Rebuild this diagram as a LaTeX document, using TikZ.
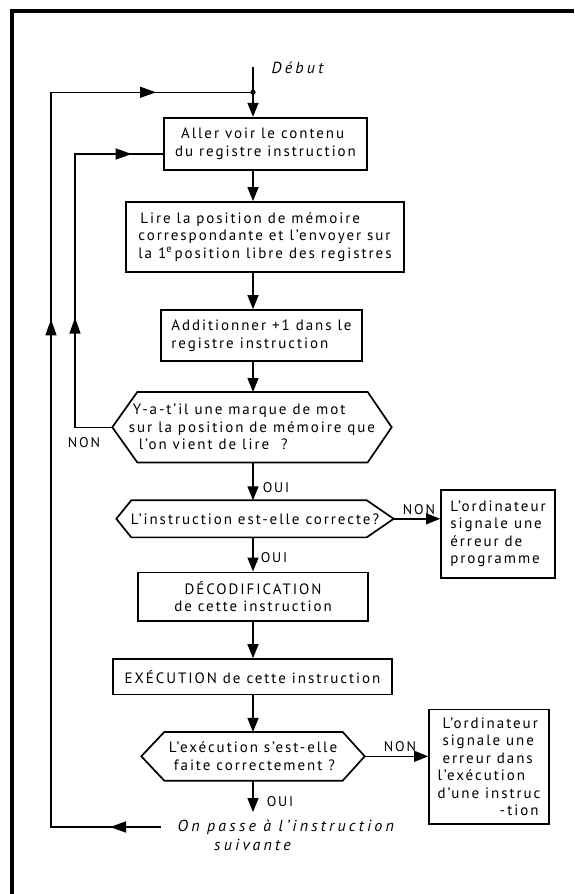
\documentclass[tikz,border=0pt]{standalone}
\usepackage{fontspec}
\setmainfont{PT Sans}[LetterSpace=13, ItalicFeatures={LetterSpace=20}]
\usetikzlibrary{arrows.meta,decorations.markings,calc}

% hexagonal decision outline drawn around a (borderless) node
% #1 node name, #2 left inset, #3 right inset
\newcommand\drawhex[3]{%
  \draw[line width=1.7pt, line join=miter]
    (#1.west) -- ([xshift=#2]#1.north west) -- ([xshift=-#3]#1.north east)
    -- (#1.east) -- ([xshift=-#3]#1.south east) -- ([xshift=#2]#1.south west)
    -- cycle;}

\begin{document}
\begin{tikzpicture}[x=1pt, y=-1pt, line width=1.4pt,
  tip/.style={-{Triangle[length=14pt,width=11pt]}},
  txt/.style={font=\fontsize{15}{17.5}\selectfont},
  box/.style={txt, draw, line width=1.7pt, inner sep=0pt, align=left},
  hexa/.style={txt, inner sep=0pt, align=left},
  lbl/.style={font=\fontsize{14}{16}\selectfont, inner sep=0pt},
  ital/.style={font=\fontsize{16}{18}\selectfont\itshape, inner sep=0pt},
  loopmarks/.style n args={3}{postaction={decorate}, decoration={markings,
    mark=at position #1 with {\arrow{Triangle[length=16pt,width=11pt]}},
    mark=at position #2 with {\arrow{Triangle[length=16pt,width=11pt]}},
    mark=at position #3 with {\arrow{Triangle[length=16pt,width=11pt]}}}},
  loopmarkstwo/.style 2 args={postaction={decorate}, decoration={markings,
    mark=at position #1 with {\arrow{Triangle[length=16pt,width=11pt]}},
    mark=at position #2 with {\arrow{Triangle[length=16pt,width=11pt]}}}}]

\useasboundingbox (0,0) rectangle (574,894);

% frame (top and left edges)
\draw[line width=3.5pt] (574,11) -- (12,11) -- (12,894);

% main column
\coordinate (spine) at (253,0);
\coordinate (top) at (253,67);
\coordinate (join) at (253,92.3);
\node[ital, anchor=west] (debut) at (271,68) {Début};

\node[box, minimum width=203pt, minimum height=52.3pt] (b1) at (265.5,143.8)
  {\hspace*{6pt}Aller voir le contenu\\du registre instruction};
\node[box, minimum width=278pt, minimum height=69.7pt] (b2) at (265,236.8)
  {\hspace*{2pt}Lire la position de mémoire\\correspondante et l’envoyer sur\\la 1\textsuperscript{e}\,position libre des registres};
\node[box, minimum width=201pt, minimum height=51pt] (b3) at (261.5,335.5)
  {Additionner +1 dans le\\registre instruction};
\node[hexa, minimum width=278pt, minimum height=69pt] (h1) at (252,427.2)
  {\hspace*{4pt}Y-a-t’il une marque de mot\\sur la position de mémoire que\\\hspace*{10pt}l’on vient de lire \ ?};
\drawhex{h1}{25pt}{24pt}
\node[hexa, minimum width=276pt, minimum height=35.7pt] (h2) at (255,518.8)
  {L’instruction est-elle correcte?};
\drawhex{h2}{15pt}{27pt}
\node[box, align=center, minimum width=230pt, minimum height=48.7pt] (b4) at (253,596.7)
  {DÉCODIFICATION\\de cette instruction};
\node[box, minimum width=279pt, minimum height=35.3pt] (b5) at (252.5,676.7)
  {EXÉCUTION de cette instruction};
\node[hexa, minimum width=222pt, minimum height=47.3pt] (h3) at (253,756.3)
  {L’exécution s’est-elle\\\hspace*{5pt}faite correctement ?};
\drawhex{h3}{23pt}{22pt}
\coordinate (ouiend) at (253,812);
\node[ital, anchor=west, inner xsep=16pt] (pass) at (161,827) {On passe à l’instruction};
\node[ital] (suiv) at (252.5,845) {suivante};

% error boxes
\node[box, minimum width=114pt, minimum height=88pt] (e1) at (498,534)
  {L’ordinateur\\signale une\\érreur de\\programme};
\node[box, minimum width=120pt, minimum height=114.7pt] (e2) at (489,766.7)
  {\hspace*{5pt}L’ordinateur\\\hspace*{5pt}signale une\\\hspace*{5pt}erreur dans\\l’exécution\\d’une instruc\\\hspace*{62pt}-\,tion};

% main flow
\draw (top) -- (join);
\fill (join) circle (2.6pt);
\draw[tip] (join) -- (b1.north -| spine);
\draw[tip] (b1.south -| spine) -- (b2.north -| spine);
\draw[tip] (b2.south -| spine) -- (b3.north -| spine);
\draw[tip] (b3.south -| spine) -- (h1.north -| spine);
\draw[tip] (h1.south -| spine) -- (h2.north -| spine);
\draw[tip] (h2.south -| spine) -- (b4.north -| spine);
\draw[tip] (b4.south -| spine) -- (b5.north -| spine);
\draw[tip] (b5.south -| spine) -- (h3.north -| spine);
\draw[tip] (h3.south -| spine) -- (ouiend);

% branches to the error boxes
\draw[tip] (h2.east) -- (h2.east -| e1.west);
\draw[tip] (h3.east) -- (h3.east -| e2.west);

% return loops
\draw[loopmarks={51pt}{617.7pt}{949.7pt}]
  (pass.west) -- (51,827) -- (51,92.3) -- (join);
\draw[loopmarkstwo={146.9pt}{367.2pt}]
  (h1.west) -- (75,427.2) -- (75,154) -- (b1.west |- 0,154);

% branch labels
\node[lbl] at (84,443) {NON};
\node[lbl] at (276,488) {OUI};
\node[lbl] at (419,510) {NON};
\node[lbl] at (274,558) {OUI};
\node[lbl] at (400,747) {NON};
\node[lbl] at (280,802) {OUI};
\end{tikzpicture}
\end{document}
